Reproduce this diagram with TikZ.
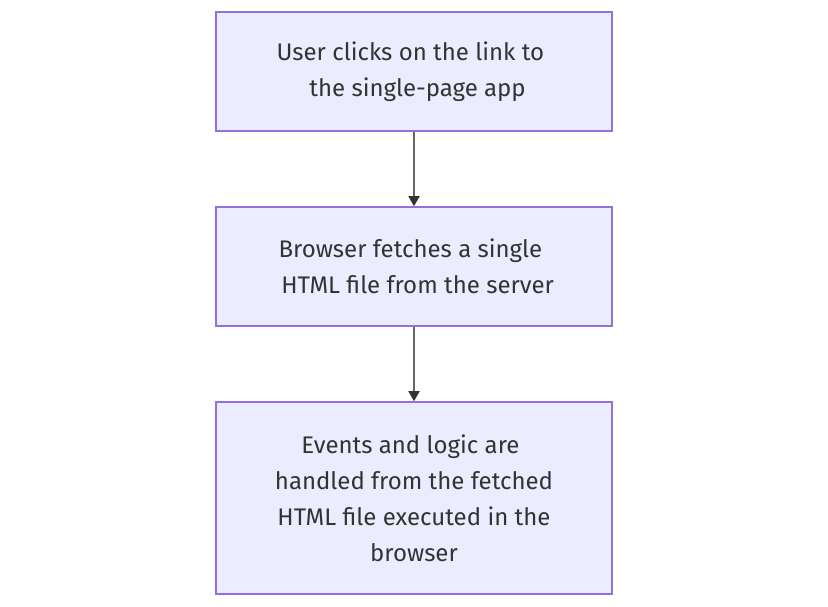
\documentclass[tikz,border=0pt]{standalone}
\usepackage{fontspec}
\setmainfont{Fira Sans}
\usetikzlibrary{arrows.meta}
\definecolor{boxfill}{HTML}{ECECFF}
\definecolor{boxline}{HTML}{9370DB}
\definecolor{txt}{HTML}{333333}
\definecolor{edge}{HTML}{666666}
\begin{document}
\begin{tikzpicture}[x=1pt,y=-1pt,
  stepbox/.style={draw=boxline,fill=boxfill,line width=1.6pt,minimum width=396pt,inner sep=0pt,
    text=txt,align=center,font=\fontsize{24}{36}\selectfont},
  flow/.style={draw=edge,line width=1.8pt,-{Triangle[length=10pt,width=11pt,color=txt]}}]
\useasboundingbox (0,0) rectangle (828,606);
\node[stepbox,minimum height=119pt] (a) at (414,71.5) {User clicks on the link to\kern0.3em\\\kern0.3em the single-page app};
\node[stepbox,minimum height=119pt] (b) at (414,266.5) {Browser fetches a single\kern0.3em\\\kern0.3em HTML file from the server};
\node[stepbox,minimum height=192pt] (c) at (414,498) {Events and logic are\kern0.3em\\handled from the fetched\\HTML file executed in the\\browser};
\draw[flow] (a) -- (b);
\draw[flow] (b) -- (c);
\end{tikzpicture}
\end{document}
